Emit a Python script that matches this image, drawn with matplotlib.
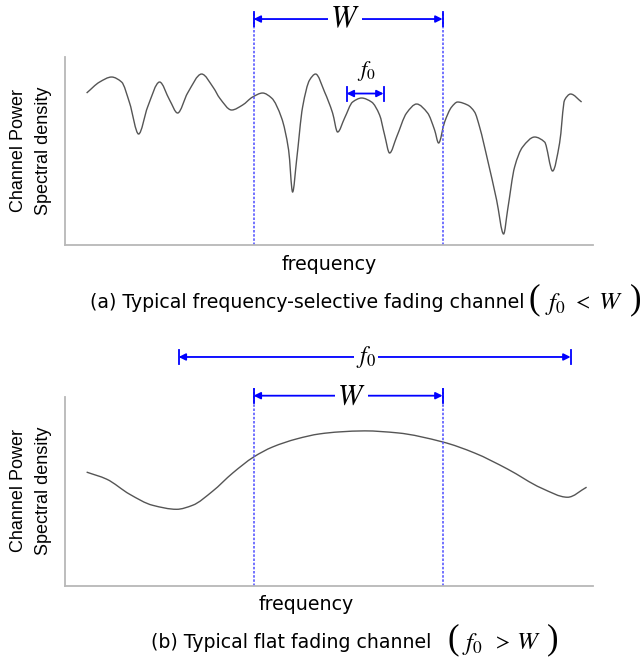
import matplotlib
matplotlib.use("Agg")
import numpy as np
import matplotlib.pyplot as plt
from matplotlib.path import Path
from matplotlib.patches import PathPatch

plt.rcParams['mathtext.fontset'] = 'stix'

# frequency-selective channel response
freq_a = [22, 35, 47, 57, 65, 74, 83, 95, 105, 113, 123, 137, 149, 155, 167,
          178, 188, 198, 207, 217, 224, 228, 232, 238, 245, 251, 260, 268,
          273, 280, 288, 297, 307, 315, 320, 325, 332, 342, 352, 363, 370,
          374, 380, 387, 393, 403, 410, 415, 423, 432, 439, 443, 450, 458,
          470, 480, 488, 495, 500, 506, 517]
psd_a = [152, 163, 168, 163, 142, 111, 138, 163, 145, 132, 152, 171, 157, 147,
         135, 140, 148, 152, 147, 127, 95, 53, 85, 138, 165, 171, 153, 132,
         113, 127, 143, 147, 143, 130, 110, 92, 108, 132, 141, 132, 115,
         102, 123, 138, 143, 140, 133, 118, 85, 45, 11, 35, 78, 98,
         108, 103, 74, 102, 145, 151, 143]

# flat fading channel response
freq_b = [22, 42, 65, 88, 112, 128, 148, 168, 189, 208, 232, 255, 275, 300,
          333, 378, 410, 443, 477, 503, 522]
psd_b = [113, 106, 91, 80, 76, 80, 94, 112, 128, 138, 146, 151, 153, 154,
         152, 143, 132, 116, 97, 88, 98]

# signal bandwidth edges and coherence bandwidth spans
band_w = [189, 378]
coh_a = [282, 319]
coh_b = [114, 506]

BLUE = '#0000ff'
DOT_BLUE = '#5a5aff'
CURVE = '#555555'


def smooth_curve(ax, xs, ys):
    """ Monotone cubic Bezier path through the points (flat at extrema). """
    x = np.asarray(xs, float)
    y = np.asarray(ys, float)
    d = np.diff(y) / np.diff(x)
    m = np.zeros_like(y)
    m[0], m[-1] = d[0], d[-1]
    for i in range(1, len(y) - 1):
        if d[i - 1] * d[i] > 0:
            m[i] = 2 / (1 / d[i - 1] + 1 / d[i])
    verts = [(x[0], y[0])]
    codes = [Path.MOVETO]
    for i in range(len(x) - 1):
        h = (x[i + 1] - x[i]) / 3
        verts += [(x[i] + h, y[i] + m[i] * h),
                  (x[i + 1] - h, y[i + 1] - m[i + 1] * h),
                  (x[i + 1], y[i + 1])]
        codes += [Path.CURVE4] * 3
    ax.add_patch(PathPatch(Path(verts, codes), fill=False, edgecolor=CURVE,
                           lw=1.0))


def span_arrow(ax, x0, x1, y, bar=7):
    """ Double headed arrow with end bars, drawn outside the axes. """
    ax.annotate('', xy=(x0, y), xytext=(x1, y), annotation_clip=False,
                arrowprops=dict(arrowstyle='<|-|>', color=BLUE, lw=1.3,
                                mutation_scale=10, shrinkA=0, shrinkB=0))
    for x in (x0, x1):
        ax.plot([x, x], [y - bar, y + bar], color=BLUE, lw=1.3,
                clip_on=False)


def label(ax, x, y, s, size):
    ax.text(x, y, s, fontsize=size, ha='center', va='center', color='black',
            bbox=dict(facecolor='white', edgecolor='none', pad=1.5),
            clip_on=False, zorder=5)


def panel(rect, freq, psd, top):
    ax = fig.add_axes(rect)
    smooth_curve(ax, freq, psd)
    ax.set_xlim(0, 528)
    ax.set_ylim(0, 188)
    for s in ('top', 'right'):
        ax.spines[s].set_visible(False)
    for s in ('left', 'bottom'):
        ax.spines[s].set_color('#b8b8b8')
        ax.spines[s].set_linewidth(1.3)
    ax.set_xticks([])
    ax.set_yticks([])
    for x in band_w:
        ax.plot([x, x], [0, top], color=DOT_BLUE, lw=1.2,
                linestyle=(0, (1.5, 1)), clip_on=False)
    return ax


fig = plt.figure(figsize=(6.41, 6.57), dpi=100)


def px(x, y):
    return x / 641, 1 - y / 657


# (a) frequency-selective fading
ax_a = panel([0.1008, 0.6271, 0.8237, 0.2861], freq_a, psd_a, 232)
span_arrow(ax_a, band_w[0], band_w[1], 226)
label(ax_a, 280, 226, r'$W$', 22)
span_arrow(ax_a, coh_a[0], coh_a[1], 151.5)
ax_a.text(302, 174, r'$f_0$', fontsize=16, ha='center', va='center')

# (b) flat fading
ax_b = panel([0.1008, 0.1085, 0.8237, 0.2877], freq_b, psd_b, 197)
span_arrow(ax_b, band_w[0], band_w[1], 189)
label(ax_b, 287, 189, r'$W$', 21)
span_arrow(ax_b, coh_b[0], coh_b[1], 227.5)
label(ax_b, 301, 227.5, r'$f_0$', 17)

# axis titles
for yc in (151, 491):
    fig.text(*px(19, yc), 'Channel Power', rotation=90, ha='center',
             va='center', fontsize=13, family='Liberation Sans')
    fig.text(*px(44, yc), 'Spectral density', rotation=90, ha='center',
             va='center', fontsize=13, family='Liberation Sans')
fig.text(*px(329, 265), 'frequency', ha='center', va='center', fontsize=13.7)
fig.text(*px(306, 605), 'frequency', ha='center', va='center', fontsize=13.7)

# captions
fig.text(*px(90, 302), '(a) Typical frequency-selective fading channel',
         ha='left', va='center', fontsize=13.6)
fig.text(*px(534, 300), '(', ha='center', va='center', fontsize=25,
         family='Liberation Serif')
fig.text(*px(555, 304), r'$f_0$', ha='center', va='center', fontsize=18)
fig.text(*px(581, 302), r'$<$', ha='center', va='center', fontsize=15)
fig.text(*px(610, 302), r'$W$', ha='center', va='center', fontsize=18)
fig.text(*px(636, 300), ')', ha='center', va='center', fontsize=25,
         family='Liberation Serif')

fig.text(*px(151, 642), '(b) Typical flat fading channel',
         ha='left', va='center', fontsize=13.6)
fig.text(*px(453, 640), '(', ha='center', va='center', fontsize=25,
         family='Liberation Serif')
fig.text(*px(472, 644), r'$f_0$', ha='center', va='center', fontsize=18)
fig.text(*px(501, 642), r'$>$', ha='center', va='center', fontsize=15)
fig.text(*px(528, 642), r'$W$', ha='center', va='center', fontsize=18)
fig.text(*px(553, 640), ')', ha='center', va='center', fontsize=25,
         family='Liberation Serif')

fig.savefig('out.png', dpi=100)
